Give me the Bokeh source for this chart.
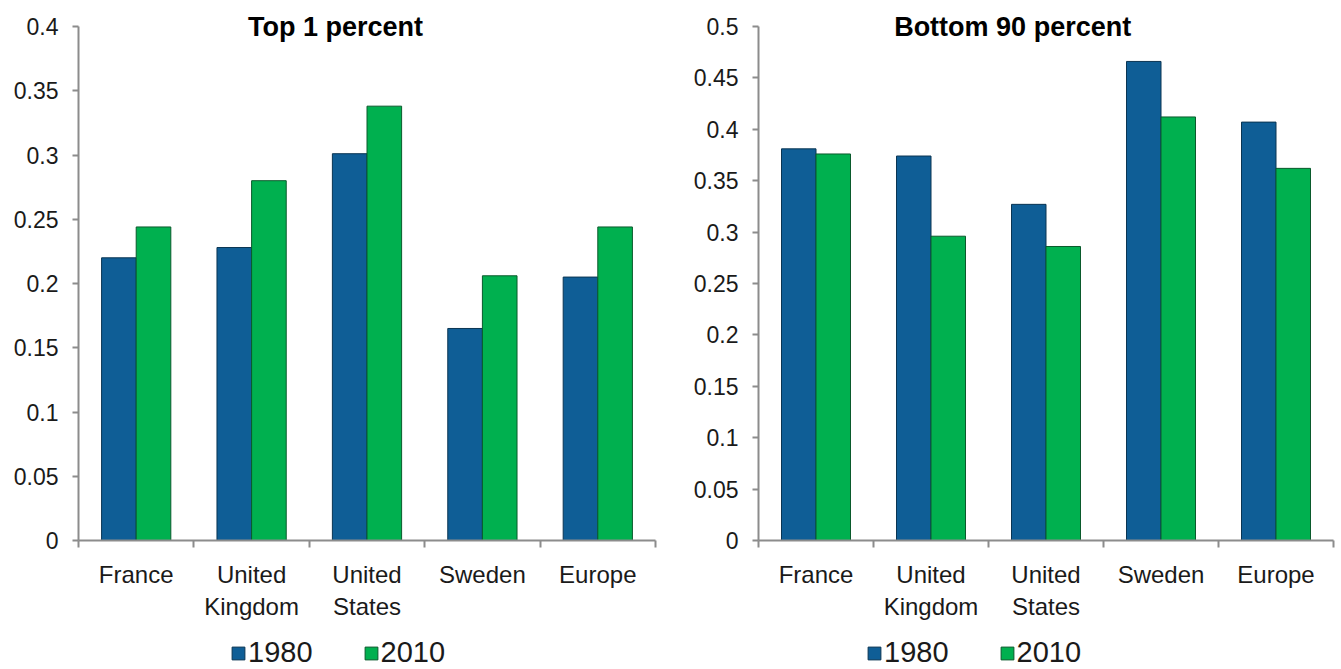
from bokeh.plotting import figure
from bokeh.models import (Range1d, FixedTicker, Label, Legend, LegendItem,
                          ColumnDataSource)
from bokeh.layouts import row, column
from bokeh.embed import file_html
from bokeh.resources import INLINE

# ---- data ----
categories = ["France", "United\nKingdom", "United\nStates", "Sweden", "Europe"]
years = ["1980", "2010"]

top1_1980 = [0.220, 0.228, 0.301, 0.165, 0.205]
top1_2010 = [0.244, 0.280, 0.338, 0.206, 0.244]

bottom90_1980 = [0.381, 0.374, 0.327, 0.466, 0.407]
bottom90_2010 = [0.376, 0.296, 0.286, 0.412, 0.362]

top1_yticks = [0, 0.05, 0.1, 0.15, 0.2, 0.25, 0.3, 0.35, 0.4]
top1_yticklabels = ["0", "0.05", "0.1", "0.15", "0.2", "0.25", "0.3", "0.35", "0.4"]
bottom90_yticks = [0, 0.05, 0.1, 0.15, 0.2, 0.25, 0.3, 0.35, 0.4, 0.45, 0.5]
bottom90_yticklabels = ["0", "0.05", "0.1", "0.15", "0.2", "0.25", "0.3", "0.35",
                        "0.4", "0.45", "0.5"]

BLUE = "#0F5E96"
BLUE_EDGE = "#0A3553"
GREEN = "#00B04F"
GREEN_EDGE = "#0A5A2C"
AXIS = "#8C8C8C"
TEXT = "#1A1A1A"
FONT = "Liberation Sans"

FRAME_H = 540      # frame height in px (top of page to x axis)
AXIS_TOP = 26      # px where the top tick sits


def make_chart(title, v1980, v2010, yticks, yticklabels, ymax, width,
               mb_left, mb_right, title_x, legend_x):
    n = len(categories)
    yext = ymax * FRAME_H / (FRAME_H - AXIS_TOP)
    p = figure(width=width, height=630, x_range=Range1d(0, n),
               y_range=Range1d(0, yext), output_backend="svg",
               toolbar_location=None, min_border_left=mb_left,
               min_border_right=mb_right, min_border_top=0,
               min_border_bottom=90)
    p.outline_line_color = None
    p.xgrid.grid_line_color = None
    p.ygrid.grid_line_color = None
    p.background_fill_color = "white"

    src = ColumnDataSource(dict(
        x1=[i + 0.35 for i in range(n)],
        x2=[i + 0.65 for i in range(n)],
        v1=v1980, v2=v2010))
    p.vbar(x="x1", top="v1", width=0.3, source=src, fill_color=BLUE,
           line_color=BLUE_EDGE, line_width=1)
    p.vbar(x="x2", top="v2", width=0.3, source=src, fill_color=GREEN,
           line_color=GREEN_EDGE, line_width=1)

    # x axis: labels at centres, tick marks at category boundaries
    centres = [i + 0.5 for i in range(n)]
    xa = p.xaxis[0]
    xa.ticker = FixedTicker(ticks=centres, minor_ticks=list(range(n + 1)))
    xa.major_label_overrides = {c: lab for c, lab in zip(centres, categories)}
    xa.major_tick_line_color = None
    xa.major_tick_out = 0
    xa.major_tick_in = 0
    xa.minor_tick_line_color = AXIS
    xa.minor_tick_line_width = 2
    xa.minor_tick_out = 7
    xa.minor_tick_in = 0
    xa.axis_line_color = AXIS
    xa.axis_line_width = 2
    xa.major_label_text_font = FONT
    xa.major_label_text_font_size = "24px"
    xa.major_label_text_color = TEXT
    xa.major_label_standoff = 13

    ya = p.yaxis[0]
    ya.bounds = (0, ymax)
    ya.ticker = FixedTicker(ticks=yticks, minor_ticks=[])
    ya.major_label_overrides = {t: lab for t, lab in zip(yticks, yticklabels)}
    ya.axis_line_color = AXIS
    ya.axis_line_width = 2
    ya.major_tick_line_color = AXIS
    ya.major_tick_line_width = 2
    ya.major_tick_out = 6
    ya.major_tick_in = 0
    ya.minor_tick_line_color = None
    ya.major_label_text_font = FONT
    ya.major_label_text_font_size = "23px"
    ya.major_label_text_color = TEXT
    ya.major_label_standoff = 14

    p.add_layout(Label(x=title_x, y=ymax, text=title, text_align="center",
                       text_baseline="middle", text_font=FONT,
                       text_font_size="27px", text_font_style="bold",
                       text_color="black"))

    # legend strip below the chart (frame aligned with the chart's frame);
    # its y range lies far above the data so the bars themselves stay hidden
    lf = figure(width=width, height=39, x_range=Range1d(0, n),
                y_range=Range1d(10, 11), x_axis_type=None, y_axis_type=None,
                output_backend="svg", toolbar_location=None,
                min_border_left=0, min_border_right=0, min_border_top=0,
                min_border_bottom=0)
    lf.outline_line_color = None
    lf.xgrid.visible = False
    lf.ygrid.visible = False
    d1 = lf.vbar(x="x1", top="v1", width=0.3, source=src, fill_color=BLUE,
                 line_color=BLUE_EDGE, line_width=1)
    d2 = lf.vbar(x="x2", top="v2", width=0.3, source=src, fill_color=GREEN,
                 line_color=GREEN_EDGE, line_width=1)
    legend = Legend(items=[LegendItem(label=years[0], renderers=[d1]),
                           LegendItem(label=years[1], renderers=[d2])],
                    orientation="horizontal", location=(legend_x, 0),
                    border_line_color=None, background_fill_alpha=0,
                    glyph_width=16, glyph_height=16, label_standoff=2,
                    spacing=50, padding=2, margin=0,
                    label_text_font=FONT, label_text_font_size="29px",
                    label_text_color=TEXT)
    lf.add_layout(legend, "center")
    return column(p, lf, spacing=0)


c1 = make_chart("Top 1 percent", top1_1980, top1_2010, top1_yticks,
                top1_yticklabels, 0.4, 670, 78, 15, 2.227, 152)
c2 = make_chart("Bottom 90 percent", bottom90_1980, bottom90_2010,
                bottom90_yticks, bottom90_yticklabels, 0.5, 671, 88, 8, 2.21, 108)

layout = row(c1, c2, spacing=0)
open("out.html", "w").write(file_html(layout, INLINE))
